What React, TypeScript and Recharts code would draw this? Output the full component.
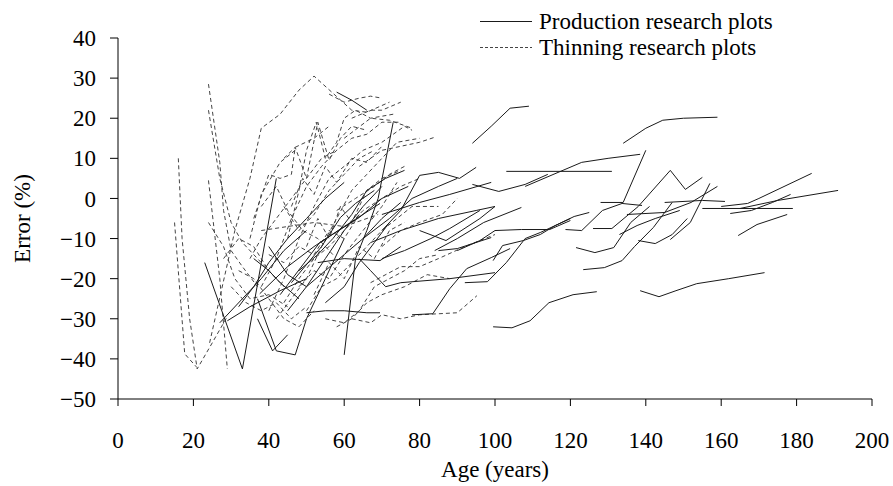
import React from 'react';
import { LineChart, Line, XAxis, YAxis } from 'recharts';

type Pt = [number, number];

// Production research plots: [age (years), error (%)]
const productionPlots: Pt[][] = [
  [[94, 13.75], [99, 18], [104, 22.5], [109, 23]],
  [[134, 13.75], [140, 17.5], [144.5, 19.5], [150, 20], [159, 20.25]],
  [[138.5, -23], [143.5, -24.5], [148, -23], [153.5, -21.25], [162, -20], [171.5, -18.5]],
  [[99.5, -32], [104.5, -32.25], [109.3, -30.5], [114.3, -26], [120.7, -24], [127, -23.25]],
  [[103, 6.75], [131, 6.75]],
  [[94, 3.5], [101, 1.75], [108, 3.5], [114, 6]],
  [[108, 3], [113, 5], [123, 9], [130, 10], [138.5, 11]],
  [[84, -13], [90, -10], [97, -6], [107, -2.25]],
  [[90, -13], [96, -10.5], [100, -8], [107, -7.75], [114.5, -7.75], [120, -5.5]],
  [[99.5, -15.5], [102, -11.75], [107.5, -10.5], [112, -9], [116, -6.75], [121, -4.5], [125, -3.5]],
  [[92, -21], [98, -20.75], [103, -16], [108, -10], [112, -8.5], [116, -6.75], [120, -5]],
  [[118.7, -7.75], [123, -8], [128.5, -3], [133.7, -1.25], [139, -1.75]],
  [[126, -7.5], [131, -7.5], [138, -2], [146.5, 7], [150.5, 2.25], [155, 5.25]],
  [[128, -1], [134, -1], [140, 12]],
  [[121.5, -12.25], [126.5, -13.5], [131.5, -12.25], [136, -6], [141, -2]],
  [[123.4, -17.75], [129, -17.25], [133.7, -15.5], [137, -12], [142, -7.25], [147, -1]],
  [[146.5, -10.25], [151.8, -6], [157, 3.75]],
  [[135, -4], [145, -3.5], [152, -1], [159, 3]],
  [[145, -1], [155, -0.5], [161, -0.75]],
  [[155, -2.5], [179, -2.5]],
  [[162.4, -3.75], [168, -3], [173.6, -1], [178.4, 1]],
  [[160, -2], [167, -1.25], [170, 0], [184, 6.25]],
  [[165, -2.5], [175, -0.5], [191, 2]],
  [[164.5, -9.25], [169.5, -6.5], [177.5, -4]],
  [[133, -9], [137.7, -6.75], [142.5, -5], [149, -3]],
  [[138, -10.5], [142.5, -11.25], [147, -9], [151, -5]],
  [[78, -29], [83.5, -28.75], [88, -22.5], [92.5, -17.5], [99, -14.75], [104, -12.5]],
  [[70, -8], [75, -3], [80, 5.75], [85, 6.5], [90.6, 5], [95, 7.75]],
  [[67, -11], [75, -8], [85, -5], [95, -3], [100, -2]],
  [[70, -4], [80, -1], [88, 1], [99, 4]],
  [[80, -8], [87, -10.5], [96, -5], [100, -2]],
  [[70, -15], [76, -13], [83, -10], [88, -7.5], [96, -3]],
  [[85, -13], [90, -12.5], [99, -9.75]],
  [[64, -15], [67, -18], [71, -22], [75, -21], [88, -20], [100, -18.5]],
  [[50, -28.5], [55, -28], [60, -28], [66, -28.5], [69.5, -28.5]],
  [[60, -39], [63, -15], [66, -8], [69, 0], [73, 19]],
  [[23, -16], [33, -42.5], [42, 5]],
  [[27, -31], [33, -25], [38, -20], [44, -13], [50, -8]],
  [[37, -30], [41, -38], [45, -34]],
  [[29, -30.5], [35, -27], [43, -23], [50, -20]],
  [[36, -15], [40, -18], [43, -21], [48, -25]],
  [[37.6, -23.75], [45, -17], [52, -12], [60, -7], [69.5, -1.25]],
  [[43, -24], [53.5, -11], [64, -4.75], [70, 0], [77, 3]],
  [[46, -21], [54, -12], [59, -4.75], [63, -1.25], [68, 2]],
  [[53, -16], [60, -15], [69.5, -15.5], [75, -12]],
  [[37, -25], [42, -38], [47, -39], [50, -30], [55, -20], [60, -10]],
  [[40, -12], [45, -19], [50, -22], [55, -18], [60, -14], [65, -10], [70, -5], [75, -1]],
  [[32, -27], [36, -22], [40, -16], [45, -10], [50, -5], [55, 0], [60, 4]],
  [[45, -28], [50, -22], [55, -15], [60, -8], [65, -2], [70, 3]],
  [[65, -10], [72, -5], [78, 0], [85, 3], [90, 5]],
  [[58, 26.5], [62, 24.5], [66, 22]],
  [[48, -18], [53, -14], [57, -10], [62, -4], [66, 2], [71, 5], [76, 7]],
  [[55, -26], [60, -22], [64, -16], [68, -11], [72, -6]],
];

// Thinning research plots: [age (years), error (%)]
const thinningPlots: Pt[][] = [
  [[16, 10], [17, -10], [19, -30], [21, -42.5], [25, -36], [28.8, -29.75]],
  [[15, -6], [17.7, -38.75], [20.8, -42]],
  [[24, 28.5], [27, 9], [28, -3], [30, -13], [33, -17], [37, -22]],
  [[24, 22], [27, 5], [30, -6], [33, -11], [37, -15], [42, -20]],
  [[24, 4.5], [27, -20], [29, -42.5]],
  [[24.3, -36], [31, -8], [35, 5], [38, 17.5], [43, 21], [48, 27], [52, 30.5], [56.7, 26.5], [62, 22], [66, 21.5], [72, 24]],
  [[56, 26], [60, 24], [64, 25], [67, 25.5], [70, 25]],
  [[24, -6], [28, -12], [31, -20], [35, -25], [40, -24], [45, -27]],
  [[38, -22], [42, -15], [46, -5], [50, 3], [54, 8], [58, 12], [62, 15], [66, 16], [70, 19], [75, 19]],
  [[40, -28], [44, -20], [48, -10], [52, -2], [56, 5], [60, 8], [65, 12], [70, 14], [76, 18], [78, 17]],
  [[42, -30], [46, -25], [50, -20], [54, -12], [58, -5], [62, 2], [66, 6], [70, 10], [74, 14], [80, 15]],
  [[45, -10], [48, 2], [50, 12], [52.6, 19], [55, 10], [58, 14], [60, 20], [63, 22], [67, 20], [73, 21]],
  [[35, -15], [38, -10], [42, -5], [46, 0], [50, 5], [54, 10], [58, 12]],
  [[44, -26], [48, -20], [52, -15], [56, -12], [60, -8], [65, -3], [70, 0], [75, 3], [80, 5]],
  [[50, -28], [54, -22], [58, -20], [62, -16], [66, -12], [70, -8], [74, -5], [78, -2], [85, -2]],
  [[55, -30], [60, -31], [64, -28], [68, -22], [72, -20], [76, -18], [80, -15], [85, -14]],
  [[62, -30], [67, -31], [70, -29], [75, -30], [80, -29], [90, -28.5], [95.2, -24.25]],
  [[67, -21], [75, -17], [80, -17], [85, -15], [92, -12], [100, -9]],
  [[62, 20], [67, 22], [70, 22], [75, 24]],
  [[60, 15], [67, 20], [72, 19.5], [78, 17.5]],
  [[64, 8], [70, 12], [75, 13], [80, 14], [84, 15.25]],
  [[58, -3], [63, 0], [68, 3], [72, 6], [76, 8]],
  [[48, -22], [52, -18], [56, -20], [60, -14], [65, -8], [70, -2], [74, 4]],
  [[38, -8], [45, -7], [52, -6], [60, -7], [69, -4]],
  [[36, -5], [40, 6], [43, 5], [46, 6], [47, 12.75], [52, 15], [56, 18]],
  [[32, -18], [36, -20], [40, -25], [44, -30], [48, -32], [52, -28]],
  [[30, -22], [34, -26], [38, -28], [42, -26], [46, -30], [50, -27]],
  [[40, -14], [44, -16], [48, -12], [52, -14], [56, -8], [60, -10], [64, -4]],
  [[70, -12], [75, -8], [80, -6], [86, -4], [90, 0]],
  [[58, -32], [62, -30], [66, -26], [70, -24], [76, -22], [82, -19], [88, -20]],
  [[44, -2], [48, -8], [52, -4], [56, 2], [60, 6], [64, 10], [68, 12]],
  [[28, -15], [32, -10], [36, -12], [40, -18], [44, -22]],
  [[35, -10], [38, 1], [43, 9], [47, 12]],
  [[44, 10], [47, 12.75], [50, 5], [53, 19], [56, 9.5], [59, 15], [62, 18], [66, 17]],
  [[46, -2], [49, 5], [52, 1], [55, 8], [58, 4], [62, 10], [66, 9], [70, 13]],
  [[50, -12], [53, -5], [56, -10], [59, -2], [62, -6], [66, 2], [70, 5], [75, 7]],
  [[52, -24], [56, -16], [60, -20], [64, -12], [68, -15], [72, -8], [76, -6]],
  [[38, -2], [42, 3], [45, -3], [49, -8], [53, -10], [57, -14]],
];

const xTicks = [0, 20, 40, 60, 80, 100, 120, 140, 160, 180, 200];
const yTicks = [-50, -40, -30, -20, -10, 0, 10, 20, 30, 40];

const FONT = "'Liberation Serif', 'Times New Roman', serif";
const FS = 23;

const toRows = (pts: Pt[]) => pts.map(([age, err]) => ({ age, err }));

const fmtY = (v: number) => (v < 0 ? '\u2212' + Math.abs(v) : String(v));

const YLabel = (props: any) => {
  const vb = props.viewBox || { x: 0, y: 38, width: 118, height: 361 };
  const x = vb.x + 30;
  const y = vb.y + vb.height / 2;
  return (
    <text x={x} y={y} transform={`rotate(-90 ${x} ${y})`} textAnchor="middle" fontFamily={FONT} fontSize={FS} fill="#000">
      Error (%)
    </text>
  );
};

const XLabel = (props: any) => {
  const vb = props.viewBox || { x: 118, y: 399, width: 754, height: 87 };
  const x = vb.x + vb.width / 2;
  const y = vb.y + 78;
  return (
    <text x={x} y={y} textAnchor="middle" fontFamily={FONT} fontSize={FS} fill="#000">
      Age (years)
    </text>
  );
};

export default function App() {
  return (
    <div style={{ position: 'absolute', left: 0, top: 0, width: 893, height: 486, background: '#fff' }}>
      <LineChart width={893} height={486} margin={{ top: 38, right: 21, left: 0, bottom: 0 }}>
        <XAxis
          type="number"
          dataKey="age"
          domain={[0, 200]}
          ticks={xTicks}
          interval={0}
          height={87}
          tickSize={7}
          tickMargin={26}
          axisLine={{ stroke: '#000', strokeWidth: 1 }}
          tickLine={{ stroke: '#000', strokeWidth: 1 }}
          tick={{ fontFamily: FONT, fontSize: FS, fill: '#000' }}
          allowDataOverflow
          label={<XLabel />}
        />
        <YAxis
          type="number"
          domain={[-50, 40]}
          ticks={yTicks}
          interval={0}
          width={118}
          tickSize={8}
          tickMargin={14}
          tickFormatter={fmtY}
          axisLine={{ stroke: '#000', strokeWidth: 1 }}
          tickLine={{ stroke: '#000', strokeWidth: 1 }}
          tick={{ fontFamily: FONT, fontSize: FS, fill: '#000' }}
          allowDataOverflow
          label={<YLabel />}
        />
        {thinningPlots.map((pts, i) => (
          <Line
            key={'t' + i}
            data={toRows(pts)}
            dataKey="err"
            type="linear"
            stroke="#444"
            strokeWidth={1}
            strokeDasharray="4 3"
            dot={false}
            activeDot={false}
            isAnimationActive={false}
            legendType="none"
          />
        ))}
        {productionPlots.map((pts, i) => (
          <Line
            key={'p' + i}
            data={toRows(pts)}
            dataKey="err"
            type="linear"
            stroke="#1a1a1a"
            strokeWidth={1}
            dot={false}
            activeDot={false}
            isAnimationActive={false}
            legendType="none"
          />
        ))}
      </LineChart>
      <svg style={{ position: 'absolute', left: 480, top: 0 }} width={330} height={64}>
        <line x1={0} y1={21.5} x2={52} y2={21.5} stroke="#1a1a1a" strokeWidth={1} />
        <text x={59} y={29} fontFamily={FONT} fontSize={FS} fill="#000">Production research plots</text>
        <line x1={0} y1={47.5} x2={52} y2={47.5} stroke="#444" strokeWidth={1} strokeDasharray="3 2" />
        <text x={59} y={55} fontFamily={FONT} fontSize={FS} fill="#000">Thinning research plots</text>
      </svg>
    </div>
  );
}
